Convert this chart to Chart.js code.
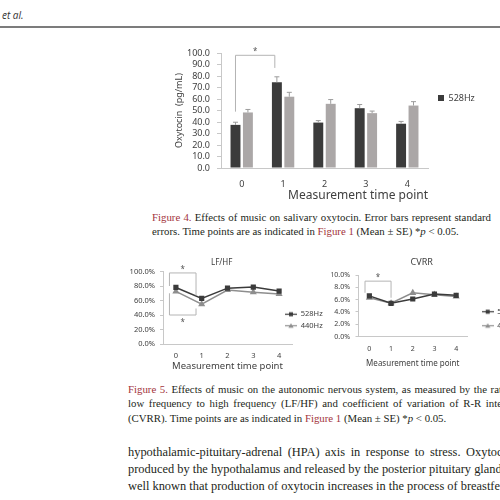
<!DOCTYPE html>
<html>
<head>
<meta charset="utf-8">
<title>Figures 4 and 5</title>
<script src="https://cdn.jsdelivr.net/npm/chart.js@4.4.1/dist/chart.umd.min.js"></script>
<style>
  html, body { margin: 0; padding: 0; width: 500px; height: 500px; overflow: hidden; background: #fff; }
  canvas, .txt, .rule { position: absolute; }
  .rule { left: 0; top: 26px; width: 500px; height: 2px; background: #7c7c7c; }
  .txt { font-family: "Liberation Serif", "DejaVu Serif", serif; color: #231f20; }
  .txt div { text-align: justify; text-align-last: justify; white-space: nowrap; }
  .txt div.last { text-align-last: left; }
  .cap { font-size: 10.8px; line-height: 14.7px; }
  .body { font-size: 12.4px; line-height: 17.2px; }
  .red { color: #a3343b; }
</style>
</head>
<body>
<div class="txt" style="left:2px;top:8px;font:italic 10px 'Open Sans',sans-serif;color:#333">et al.</div>
<div class="rule"></div>

<canvas id="oxyChart" width="340" height="170" style="left:160px;top:40px"></canvas>

<div class="txt cap" style="left:152px;top:209.5px;width:339px">
  <div><span class="red">Figure 4.</span> Effects of music on salivary oxytocin. Error bars represent standard</div>
  <div class="last">errors. Time points are as indicated in <span class="red">Figure 1</span> (Mean ± SE) *<i>p</i> &lt; 0.05.</div>
</div>

<canvas id="lfhfChart" width="231" height="125" style="left:101px;top:250px"></canvas>
<canvas id="cvrrChart" width="190" height="125" style="left:322px;top:250px"></canvas>

<div class="txt cap" style="left:128px;top:381.5px;width:395px">
  <div><span class="red">Figure 5.</span> Effects of music on the autonomic nervous system, as measured by the ratio of</div>
  <div>low frequency to high frequency (LF/HF) and coefficient of variation of R-R intervals</div>
  <div class="last">(CVRR). Time points are as indicated in <span class="red">Figure 1</span> (Mean ± SE) *<i>p</i> &lt; 0.05.</div>
</div>

<div class="txt body" style="left:128px;top:443.7px;width:398px">
  <div>hypothalamic-pituitary-adrenal (HPA) axis in response to stress. Oxytocin is</div>
  <div>produced by the hypothalamus and released by the posterior pituitary gland. It is</div>
  <div>well known that production of oxytocin increases in the process of breastfeeding</div>
</div>

<script>
// measurement time points and groups
const timePoints = ['0', '1', '2', '3', '4'];
const groupNames = ['528Hz', '440Hz'];

// Figure 4: salivary oxytocin (pg/mL), mean and SE
const oxy528 = [37.5, 74.5, 39.5, 52, 38.5];
const oxy440 = [48.3, 62, 55.8, 47.7, 54.3];
const oxy528Se = [2.3, 4.8, 1.7, 3.2, 2];
const oxy440Se = [2.6, 3.8, 3.7, 1.8, 3.4];
// significance bracket: legs at category positions, [left leg end, bar level, right leg end]
const oxySigX = [-0.15, 0.8];
const oxySigY = [49, 98, 87];

// Figure 5: LF/HF (%) and CVRR (%)
const lfhf528 = [78, 63, 77, 78.5, 73];
const lfhf440 = [72.5, 55, 74.5, 71.5, 69];
const lfhfSigX = [-0.25, 0.78];
const lfhfSigUpY = [80, 98, 67];
const lfhfSigLowY = [70, 40, 49];

const cvrr528 = [6.6, 5.4, 6.1, 6.9, 6.7];
const cvrr440 = [6.3, 5.4, 7.1, 6.8, 6.5];
const cvrrSigX = [-0.2, 1];
const cvrrSigY = [7.1, 9, 6.3];

const DARK = '#3b3b3b';
const LIGHT = '#8e8e8e';
const BAR_LIGHT = '#aba7a7';
const TEXT = '#404040';
const AXIS = '#c8c8c8';

Chart.defaults.font.family = "'Noto Sans', sans-serif";
Chart.defaults.color = TEXT;

// error bars, significance brackets and legend placement
const figMarks = {
  id: 'figMarks',
  afterLayout(chart, args, opts) {
    const lg = chart.legend;
    if (!lg || !opts.legendAt) return;
    lg.left = opts.legendAt[0];
    lg.top = opts.legendAt[1];
    lg.right = lg.left + 90;
    lg.bottom = lg.top + 40;
  },
  afterDatasetsDraw(chart, args, opts) {
    const ctx = chart.ctx, x = chart.scales.x, y = chart.scales.y;
    ctx.save();
    ctx.lineWidth = 1;
    (opts.errors || []).forEach(function(se, di) {
      const vals = chart.data.datasets[di].data;
      chart.getDatasetMeta(di).data.forEach(function(bar, i) {
        const yTop = y.getPixelForValue(vals[i] + se[i]);
        ctx.strokeStyle = opts.errorColor;
        ctx.beginPath();
        ctx.moveTo(bar.x, bar.y);
        ctx.lineTo(bar.x, yTop);
        ctx.moveTo(bar.x - 2.5, yTop);
        ctx.lineTo(bar.x + 2.5, yTop);
        ctx.stroke();
      });
    });
    (opts.brackets || []).forEach(function(b) {
      const x0 = x.getPixelForValue(b.x[0]);
      const x1 = x.getPixelForValue(b.x[1]);
      const yl = y.getPixelForValue(b.y[1]);
      ctx.strokeStyle = '#b4b4b4';
      ctx.beginPath();
      ctx.moveTo(x0, y.getPixelForValue(b.y[0]));
      ctx.lineTo(x0, yl);
      ctx.lineTo(x1, yl);
      ctx.lineTo(x1, y.getPixelForValue(b.y[2]));
      ctx.stroke();
      ctx.fillStyle = '#555';
      ctx.font = "8px 'Noto Sans', sans-serif";
      ctx.textAlign = 'center';
      ctx.textBaseline = 'alphabetic';
      ctx.fillText('*', (x0 + x1) / 2, b.below ? yl + 9.5 : yl - 1);
    });
    ctx.restore();
  }
};

// small "line + marker" legend symbols like the original
function makeIcon(color, shape) {
  const c = document.createElement('canvas');
  c.width = 12; c.height = 7;
  const g = c.getContext('2d');
  g.strokeStyle = color; g.fillStyle = color; g.lineWidth = 1.2;
  g.beginPath(); g.moveTo(0, 3.5); g.lineTo(12, 3.5); g.stroke();
  if (shape === 'rect') {
    g.fillRect(4, 1.5, 4, 4);
  } else {
    g.beginPath(); g.moveTo(6, 1); g.lineTo(8.6, 5.6); g.lineTo(3.4, 5.6); g.closePath(); g.fill();
  }
  return c;
}
const legendIcons = [makeIcon(DARK, 'rect'), makeIcon(LIGHT, 'triangle')];

function iconLabels(chart) {
  const items = Chart.defaults.plugins.legend.labels.generateLabels(chart);
  items.forEach(function(item, i) { item.pointStyle = legendIcons[i]; });
  return items;
}

// Figure 4 bar chart
new Chart(document.getElementById('oxyChart'), {
  type: 'bar',
  data: {
    labels: timePoints,
    datasets: [
      {label: groupNames[0], data: oxy528, backgroundColor: DARK},
      {label: groupNames[1], data: oxy440, backgroundColor: BAR_LIGHT}
    ]
  },
  options: {
    responsive: false,
    animation: false,
    layout: {padding: {top: 13, right: 22, bottom: 0, left: 0}},
    datasets: {bar: {categoryPercentage: 0.6, barPercentage: 0.8}},
    scales: {
      x: {
        grid: {display: false, drawTicks: false},
        border: {color: AXIS},
        ticks: {padding: 10.6, font: {size: 9}},
        title: {display: true, text: 'Measurement time point', align: 'end', font: {size: 12}, padding: {top: 0, bottom: 6.8}},
        afterFit: function(s) { s.height = 42; }
      },
      y: {
        min: 0, max: 100,
        ticks: {stepSize: 10, autoSkip: false, padding: 7, font: {size: 9}, callback: function(v) { return v.toFixed(1); }},
        grid: {drawOnChartArea: false, tickLength: 4, color: AXIS},
        border: {color: AXIS},
        title: {display: true, text: 'Oxytocin  (pg/mL)', font: {size: 9}, padding: {top: 13.6, bottom: 0}},
        afterFit: function(s) { s.width = 61; }
      }
    },
    plugins: {
      legend: {
        position: 'right', align: 'start', maxWidth: 50,
        labels: {boxWidth: 6, boxHeight: 6, padding: 10, font: {size: 9},
                 filter: function(item) { return item.datasetIndex === 0; }}
      },
      tooltip: {enabled: false},
      figMarks: {
        legendAt: [268, 43.5],
        errors: [oxy528Se, oxy440Se],
        errorColor: '#9c9c9c',
        brackets: [{x: oxySigX, y: oxySigY}]
      }
    }
  },
  plugins: [figMarks]
});

// Figure 5 line charts
function lineChart(id, title, d528, d440, yMax, yStep, geo, brackets) {
  return new Chart(document.getElementById(id), {
    type: 'line',
    data: {
      labels: timePoints,
      datasets: [
        {label: groupNames[0], data: d528, borderColor: DARK, backgroundColor: DARK, borderWidth: 1.5,
         pointStyle: 'rect', pointRadius: 2.6},
        {label: groupNames[1], data: d440, borderColor: LIGHT, backgroundColor: LIGHT, borderWidth: 1.5,
         pointStyle: 'triangle', pointRadius: 2.6}
      ]
    },
    options: {
      responsive: false,
      animation: false,
      layout: {padding: {top: 0, right: 0, bottom: 0, left: geo.padLeft}},
      scales: {
        x: {
          offset: true,
          grid: {display: false, drawTicks: false},
          border: {color: AXIS},
          ticks: {padding: geo.xTickPad, font: {size: geo.tick}},
          title: {display: true, text: 'Measurement time point', font: {size: geo.xTitle}, padding: {top: 0, bottom: geo.xTitlePad}},
          afterFit: function(s) { s.height = geo.xHeight; }
        },
        y: {
          min: 0, max: yMax,
          ticks: {stepSize: yStep, autoSkip: false, padding: geo.yTickPad, font: {size: geo.tick},
                  callback: function(v) { return v.toFixed(1) + '%'; }},
          grid: {drawOnChartArea: false, tickLength: 3, color: AXIS},
          border: {color: AXIS},
          afterFit: function(s) { s.width = geo.yWidth; }
        }
      },
      plugins: {
        title: {display: true, text: title, color: TEXT, font: {size: geo.title, weight: 'normal'},
                padding: {top: geo.titleTop, bottom: geo.titleBottom}},
        legend: {
          position: 'right', align: 'start', maxWidth: geo.legendWidth,
          labels: {usePointStyle: true, pointStyleWidth: 12, padding: geo.legendPad, font: {size: geo.tick},
                   generateLabels: iconLabels}
        },
        tooltip: {enabled: false},
        figMarks: {legendAt: geo.legendAt, brackets: brackets}
      }
    },
    plugins: [figMarks]
  });
}

lineChart('lfhfChart', 'LF/HF', lfhf528, lfhf440, 100, 20, {
  padLeft: 10.4, yWidth: 51.6, xHeight: 31, tick: 7.5, xTickPad: 7.5, yTickPad: 5,
  xTitle: 9.5, xTitlePad: 3.3, title: 8, titleTop: 7.9, titleBottom: 4,
  legendWidth: 40, legendPad: 4, legendAt: [180, 56.5]
}, [
  {x: lfhfSigX, y: lfhfSigUpY},
  {x: lfhfSigX, y: lfhfSigLowY, below: true}
]);

lineChart('cvrrChart', 'CVRR', cvrr528, cvrr440, 10, 2, {
  padLeft: 9.4, yWidth: 27.1, xHeight: 38.5, tick: 7, xTickPad: 8.3, yTickPad: 5.5,
  xTitle: 8, xTitlePad: 6.9, title: 9, titleTop: 7.3, titleBottom: 6.9,
  legendWidth: 45, legendPad: 7, legendAt: [152.7, 51.2]
}, [
  {x: cvrrSigX, y: cvrrSigY}
]);
</script>
</body>
</html>
